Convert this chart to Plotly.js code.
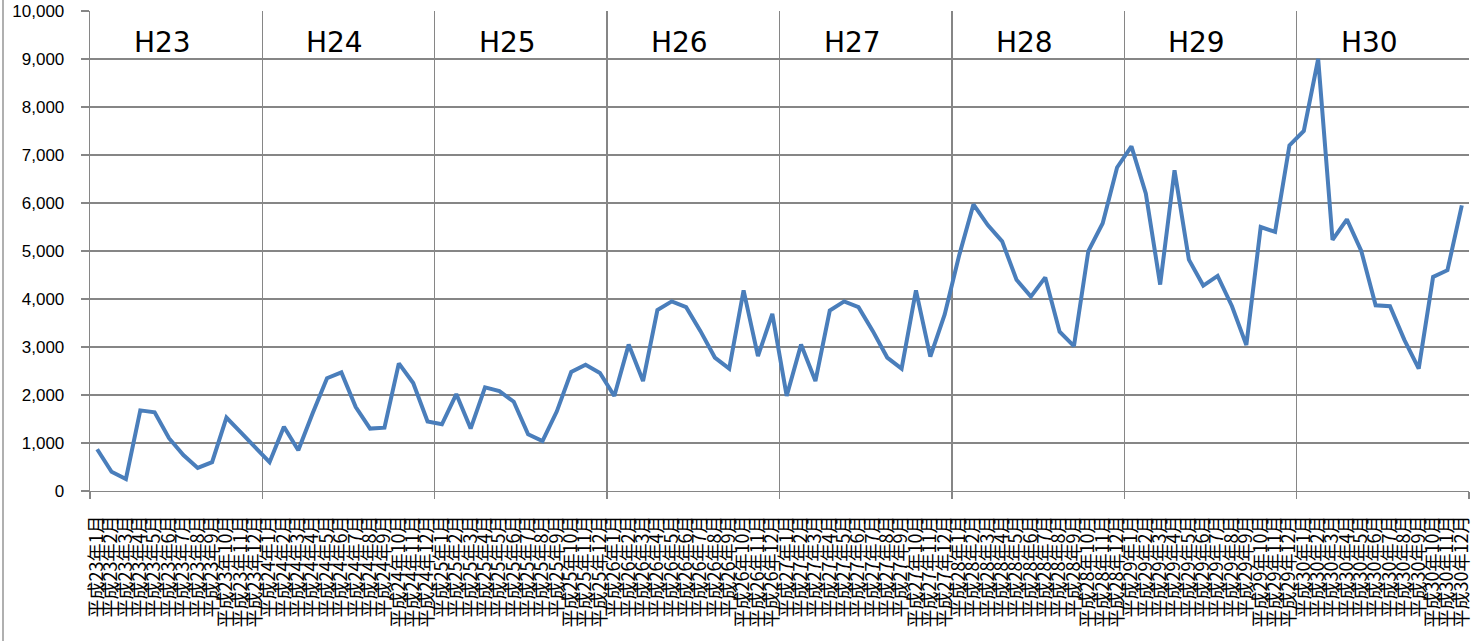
<!DOCTYPE html>
<html>
<head>
<meta charset="utf-8">
<script src="https://cdn.plot.ly/plotly-3.0.1.min.js"></script>
<style>html,body{margin:0;padding:0;background:#fff;}#chart{width:1472px;height:641px;}</style>
</head>
<body>
<div id="chart"></div>
<script>
// ---- data ----
const eraYears = [23, 24, 25, 26, 27, 28, 29, 30];
const yearLabels = ["H23", "H24", "H25", "H26", "H27", "H28", "H29", "H30"];
const months = [1, 2, 3, 4, 5, 6, 7, 8, 9, 10, 11, 12];
const h23 = [870, 400, 250, 1680, 1640, 1100, 750, 480, 600, 1530, 1220, 900];
const h24 = [600, 1340, 850, 1620, 2350, 2470, 1750, 1300, 1320, 2660, 2250, 1450];
const h25 = [1390, 2020, 1300, 2160, 2080, 1860, 1180, 1040, 1660, 2480, 2630, 2460];
const h26 = [1980, 3050, 2290, 3770, 3950, 3830, 3330, 2780, 2550, 4180, 2810, 3690];
const h27 = [1980, 3050, 2290, 3760, 3950, 3830, 3330, 2780, 2550, 4180, 2800, 3680];
const h28 = [4900, 5970, 5540, 5200, 4400, 4050, 4450, 3320, 3020, 5000, 5580, 6740];
const h29 = [7180, 6200, 4300, 6680, 4820, 4280, 4480, 3850, 3040, 5500, 5400, 7200];
const h30 = [7500, 9000, 5230, 5660, 5000, 3870, 3850, 3150, 2550, 4460, 4600, 5950];
const yTickVals = [0, 1000, 2000, 3000, 4000, 5000, 6000, 7000, 8000, 9000, 10000];
const yTickText = ["0", "1,000", "2,000", "3,000", "4,000", "5,000", "6,000", "7,000", "8,000", "9,000", "10,000"];

// ---- build ----
const categories = [];
eraYears.forEach(y => months.forEach(m => categories.push("平成" + y + "年" + m + "月")));
const values = [].concat(h23, h24, h25, h26, h27, h28, h29, h30);
const n = categories.length;
const boundaries = [];
for (let i = 0; i <= eraYears.length; i++) boundaries.push(i * 12 - 0.5);

const gridColor = "#868686";
const W = 1472, H = 641, ml = 90, mr = 3, mt = 11, mb = 150;
const pw = W - ml - mr, ph = H - mt - mb;

const traces = [{
  type: "scatter", mode: "lines",
  x: categories, y: values,
  line: {color: "#4a7ebb", width: 4},
  xaxis: "x", yaxis: "y",
  hoverinfo: "x+y", showlegend: false
}];

const annotations = yearLabels.map((t, i) => ({
  xref: "x2", yref: "y", x: i * 12 + 4.55, y: 9340,
  text: t, showarrow: false,
  font: {family: "DejaVu Sans, sans-serif", size: 28, color: "#000"},
  xanchor: "center", yanchor: "middle"
}));

const layout = {
  width: W, height: H,
  margin: {l: ml, r: mr, t: mt, b: mb, pad: 0},
  paper_bgcolor: "#fff", plot_bgcolor: "#fff",
  showlegend: false,
  xaxis: {
    type: "category",
    range: [-0.5, n - 0.5],
    tickmode: "array", tickvals: categories, ticktext: categories,
    showgrid: false, zeroline: false,
    showline: false,
    ticks: "",
    tickangle: -90,
    tickfont: {family: "Noto Sans CJK JP, sans-serif", size: 18, color: "#000"},
    ticklabelstandoff: 20,
    automargin: false
  },
  xaxis2: {
    overlaying: "x", anchor: "y", side: "bottom",
    type: "linear",
    range: [-0.5, n - 0.5],
    tickmode: "array", tickvals: boundaries,
    showticklabels: false,
    showgrid: true, gridcolor: gridColor, gridwidth: 1.3,
    ticks: "outside", ticklen: 7, tickcolor: gridColor, tickwidth: 1.3,
    zeroline: false, showline: true, linecolor: gridColor, linewidth: 1.3
  },
  yaxis: {
    range: [0, 10000],
    tickmode: "array", tickvals: yTickVals, ticktext: yTickText,
    showgrid: true, gridcolor: gridColor, gridwidth: 1.3,
    zeroline: false,
    showline: true, linecolor: gridColor, linewidth: 1.3,
    ticks: "outside", ticklen: 8, tickcolor: gridColor, tickwidth: 1.3,
    tickfont: {family: "Liberation Sans, Arial, sans-serif", size: 17, color: "#000"},
    ticklabelstandoff: 13,
    automargin: false
  },
  annotations: annotations,
  shapes: [{
    type: "line", xref: "paper", yref: "paper",
    x0: (3 - ml) / pw, x1: (3 - ml) / pw, y0: -mb / ph, y1: 1 + mt / ph,
    line: {color: gridColor, width: 1.3}
  }]
};

Plotly.newPlot("chart", traces, layout, {displayModeBar: false, staticPlot: true});
</script>
</body>
</html>
